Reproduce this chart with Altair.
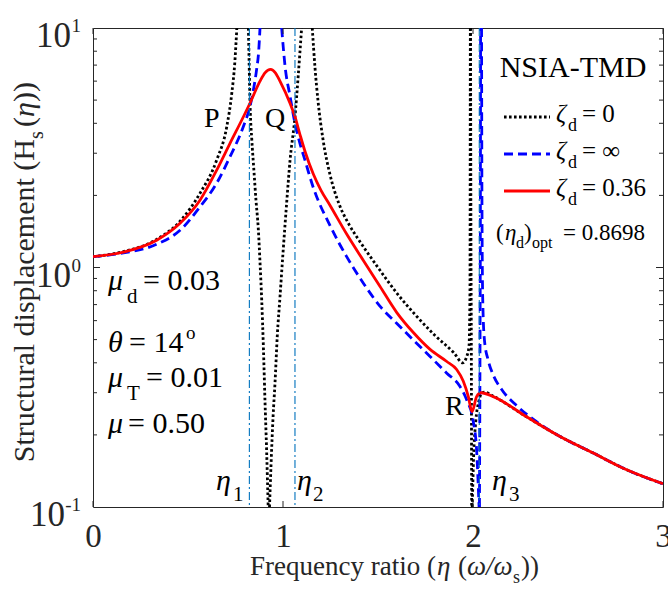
import altair as alt
import pandas as pd

# ---------------- values ----------------
# zeta_d = 0.36 (red, solid)
red_x = [0.000, 0.160, 0.335, 0.458, 0.563, 0.651, 0.721, 0.791, 0.826, 0.879, 0.905, 0.935, 0.960,
         0.984, 1.037, 1.063, 1.089, 1.116, 1.160, 1.200, 1.247, 1.335, 1.423, 1.510, 1.598, 1.686,
         1.774, 1.862, 1.914, 1.949, 1.975, 1.995, 2.019, 2.042, 2.107, 2.282, 2.458, 2.633, 2.809,
         3.000]
red_y = [1.11, 1.16, 1.30, 1.53, 1.91, 2.55, 3.30, 4.25, 4.85, 6.00, 6.50, 6.72, 6.50,
         6.00, 4.85, 4.26, 3.60, 3.05, 2.45, 2.10, 1.82, 1.38, 1.07, 0.835, 0.650, 0.535,
         0.455, 0.405, 0.375, 0.335, 0.290, 0.250, 0.289, 0.300, 0.289, 0.238, 0.197, 0.168, 0.143,
         0.125]

# zeta_d = 0 (black, dotted) - one list per continuous branch
black_x = [
    [0.000, 0.160, 0.335, 0.458, 0.563, 0.651, 0.704, 0.730, 0.747, 0.757],
    [0.818, 0.822, 0.827, 0.836, 0.846, 0.858, 0.870, 0.879, 0.888, 0.897, 0.905, 0.914, 0.922],
    [0.929, 0.937, 0.948, 0.958, 0.970, 0.984, 1.000, 1.019, 1.037, 1.063, 1.080, 1.098],
    [1.154, 1.168, 1.185, 1.210, 1.247, 1.270, 1.300, 1.350, 1.400, 1.500, 1.600, 1.700, 1.800,
     1.900, 1.946, 1.967, 1.979, 1.984, 1.986],
    [1.987, 1.989, 1.991, 1.993],
    [1.996, 2.003, 2.015, 2.030, 2.045, 2.060, 2.107, 2.282, 2.458, 2.633, 2.809, 3.000],
]
black_y = [
    [1.11, 1.165, 1.31, 1.56, 2.04, 2.81, 3.87, 5.30, 7.30, 10.0],
    [10.0, 7.0, 4.7, 3.4, 2.6, 1.9, 1.45, 1.05, 0.73, 0.46, 0.28, 0.17, 0.10],
    [0.10, 0.15, 0.24, 0.33, 0.52, 0.75, 1.15, 1.85, 2.80, 4.26, 6.30, 10.0],
    [10.0, 6.9, 4.9, 3.45, 2.45, 2.10, 1.80, 1.50, 1.30, 1.00, 0.78, 0.63, 0.52,
     0.44, 0.40, 0.425, 0.47, 0.80, 10.0],
    [10.0, 1.5, 0.5, 0.10],
    [0.10, 0.16, 0.23, 0.275, 0.298, 0.302, 0.290, 0.238, 0.197, 0.168, 0.143, 0.125],
]

# zeta_d = infinity (blue, dashed)
blue_x = [
    [0.000, 0.160, 0.335, 0.458, 0.563, 0.651, 0.721, 0.791, 0.826, 0.844, 0.861, 0.872, 0.879],
    [0.993, 1.011, 1.037, 1.063, 1.089, 1.116, 1.160, 1.247, 1.335, 1.423, 1.510, 1.598,
     1.686, 1.774, 1.862, 1.930, 1.967, 2.000, 2.019, 2.032],
    [2.034, 2.037, 2.039, 2.040],
    [2.045, 2.047, 2.051, 2.060, 2.080, 2.107, 2.150, 2.230, 2.318, 2.458, 2.633, 2.809, 3.000],
]
blue_y = [
    [1.11, 1.15, 1.25, 1.43, 1.79, 2.25, 2.90, 3.87, 4.70, 5.50, 6.70, 8.00, 10.0],
    [10.0, 6.9, 5.2, 4.0, 3.3, 2.8, 2.15, 1.50, 1.11, 0.86, 0.69, 0.585,
     0.498, 0.425, 0.362, 0.320, 0.280, 0.231, 0.173, 0.10],
    [0.10, 0.50, 2.0, 10.0],
    [10.0, 2.0, 0.75, 0.50, 0.41, 0.355, 0.31, 0.265, 0.232, 0.197, 0.168, 0.143, 0.125],
]

# fixed-point frequencies (dash-dot lines)
eta_x = [0.823, 1.063, 2.033]

# axis ticks
x_ticks = [0, 1, 2, 3]
y_major = [0.1, 1, 10]
y_exp = ["-1", "0", "1"]
y_minor = [0.2, 0.3, 0.4, 0.5, 0.6, 0.7, 0.8, 0.9, 2, 3, 4, 5, 6, 7, 8, 9]

# ---------------- build tables ----------------
rows = []
for name, xs_list, ys_list in [("black", black_x, black_y), ("blue", blue_x, blue_y),
                               ("red", [red_x], [red_y])]:
    for k, (xs, ys) in enumerate(zip(xs_list, ys_list)):
        for xv, yv in zip(xs, ys):
            rows.append({"x": xv, "y": yv, "series": name, "seg": f"{name}{k}"})
df = pd.DataFrame(rows)
eta_df = pd.DataFrame({"eta": eta_x})
xt_df = pd.DataFrame({"v": x_ticks})
ymin_df = pd.DataFrame({"v": y_minor})
ymaj_df = pd.DataFrame({"v": [1]})
dummy = pd.DataFrame({"d": [0]})

# ---------------- layout ----------------
W, H = 570, 479
X0, Y0 = 93, 28
FONT = "Liberation Serif"
INK = "#262626"

xscale = alt.Scale(domain=[0, 3], nice=False, zero=False)
yscale = alt.Scale(type="log", domain=[0.1, 10], nice=False)
xaxis = alt.Axis(values=x_ticks, format="d", labelFont=FONT, labelFontSize=33, labelColor=INK,
                 labelPadding=13, ticks=False, domain=False, grid=False, title=None,
                 labelFlush=False, labelOverlap=False)


def X(f):
    return alt.X(f, type="quantitative", scale=xscale, axis=xaxis)


def Y(f):
    return alt.Y(f, type="quantitative", scale=yscale, axis=None)


def T(s, px, py, size, italic=False, align="left", color="black", angle=0):
    props = dict(text=s, font=FONT, fontSize=size, align=align, baseline="alphabetic", color=color)
    if italic:
        props["fontStyle"] = "italic"
    if angle:
        props["angle"] = angle
    return alt.Chart(dummy).mark_text(**props).encode(x=alt.value(px - X0), y=alt.value(py - Y0))


def line_layer(name, color, width, dash=None):
    kw = dict(color=color, strokeWidth=width, interpolate="monotone", clip=True)
    if dash:
        kw["strokeDash"] = dash
    return (alt.Chart(df).transform_filter(alt.datum.series == name)
            .mark_line(**kw).encode(x=X("x"), y=Y("y"), detail="seg:N"))


DOT = [2.6, 2.4]
DASH = [9, 5]
layers = []

# curves
layers.append(line_layer("black", "black", 2.8, DOT))
layers.append(line_layer("blue", "#0000FF", 2.8, DASH))
layers.append(line_layer("red", "#FF0000", 2.8))

# dash-dot fixed point lines
layers.append(alt.Chart(eta_df).mark_rule(color="#0072BD", strokeWidth=1.1, strokeDash=[8, 3, 2, 3])
              .encode(x=X("eta")))

# inner ticks
layers.append(alt.Chart(xt_df).mark_rule(color=INK, strokeWidth=1)
              .encode(x=X("v"), y=alt.value(H), y2=alt.value(H - 6)))
layers.append(alt.Chart(xt_df).mark_rule(color=INK, strokeWidth=1)
              .encode(x=X("v"), y=alt.value(0), y2=alt.value(6)))
for x1, x2 in [(0, 4), (W - 4, W)]:
    layers.append(alt.Chart(ymin_df).mark_rule(color=INK, strokeWidth=1)
                  .encode(y=Y("v"), x=alt.value(x1), x2=alt.value(x2)))
for x1, x2 in [(0, 7), (W - 7, W)]:
    layers.append(alt.Chart(ymaj_df).mark_rule(color=INK, strokeWidth=1)
                  .encode(y=Y("v"), x=alt.value(x1), x2=alt.value(x2)))

# y tick labels 10^k
for v, e in zip(y_major, y_exp):
    ew = 16 if len(e) > 1 else 10
    vdf = pd.DataFrame({"v": [v]})
    layers.append(alt.Chart(vdf).mark_text(text="10", font=FONT, fontSize=35, align="right",
                                           baseline="alphabetic", dy=19, color=INK)
                  .encode(x=alt.value(81 - ew - X0), y=Y("v")))
    layers.append(alt.Chart(vdf).mark_text(text=e, font=FONT, fontSize=19, align="right",
                                           baseline="alphabetic", dy=4, color=INK)
                  .encode(x=alt.value(81 - X0), y=Y("v")))

# x title
layers += [
    T("Frequency ratio (", 436, 575, 27, align="right", color=INK),
    T("η", 437, 575, 27, italic=True, color=INK),
    T("(", 458, 575, 27, color=INK),
    T("ω/ω", 467, 575, 27, italic=True, color=INK),
    T("s", 513, 583, 18, color=INK),
    T("))", 521, 575, 27, color=INK),
]
# y title (rotated)
layers += [
    T("Structural displacement (H", 34, 139, 30, align="right", color=INK, angle=270),
    T("s", 43, 139, 20, color=INK, angle=270),
    T("(", 34, 127, 30, color=INK, angle=270),
    T("η", 34, 117, 30, italic=True, color=INK, angle=270),
    T("))", 34, 102, 30, color=INK, angle=270),
]

# parameter annotations
layers += [
    T("μ", 108, 290, 30, italic=True), T("d", 127, 303, 21), T("= 0.03", 143, 290, 30),
    T("θ", 108, 352, 30, italic=True), T("= 14", 129, 352, 30), T("o", 186, 339, 19),
    T("μ", 108, 387, 30, italic=True), T("T", 127, 400, 21), T("= 0.01", 146, 387, 30),
    T("μ", 108, 433, 30, italic=True), T("= 0.50", 128, 433, 30),
]
# point labels
layers += [
    T("P", 204, 127, 28), T("Q", 265, 127, 28), T("R", 445, 415, 28),
    T("η", 216, 490, 30, italic=True), T("1", 233, 501, 21),
    T("η", 297, 490, 30, italic=True), T("2", 313, 501, 21),
    T("η", 492, 490, 30, italic=True), T("3", 509, 501, 21),
]

# legend
layers.append(T("NSIA-TMD", 573, 77, 30, align="center"))
for yy, col, dash, lab in [(117, "black", DOT, "= 0"), (154, "#0000FF", DASH, "= ∞"),
                           (191, "#FF0000", None, "= 0.36")]:
    kw = dict(color=col, strokeWidth=2.8)
    if dash:
        kw["strokeDash"] = dash
    layers.append(alt.Chart(dummy).mark_rule(**kw)
                  .encode(x=alt.value(504 - X0), x2=alt.value(550 - X0), y=alt.value(yy - Y0)))
    layers += [T("ζ", 556, yy + 5, 25, italic=True), T("d", 568, yy + 14, 18),
               T(lab, 582, yy + 5, 25)]
layers += [
    T("(", 496, 240, 23), T("η", 505, 240, 23, italic=True), T("d", 516, 248, 16),
    T(")", 524, 240, 23), T("opt", 532, 248, 16), T("= 0.8698", 563, 240, 23),
]

chart = alt.layer(*layers).properties(
    width=W, height=H,
    autosize=alt.AutoSizeParams(type="none"),
    padding={"left": X0, "top": Y0, "right": 668 - X0 - W, "bottom": 589 - Y0 - H},
    background="white",
).configure_view(stroke=INK, strokeWidth=1)

chart.save("out.html", embed_options={"renderer": "svg", "actions": False})
